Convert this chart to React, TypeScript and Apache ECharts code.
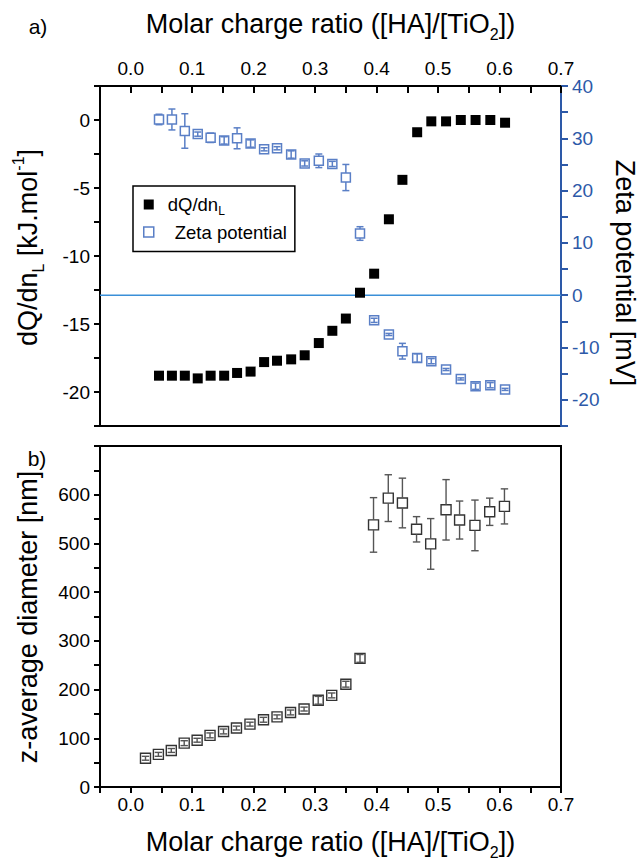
import React, { useEffect, useRef } from 'react';
import * as echarts from 'echarts';

// ---- data ----
const RATIO_TOP = [0.046, 0.067, 0.088, 0.109, 0.130, 0.152, 0.173, 0.195, 0.217, 0.238, 0.261, 0.283, 0.306, 0.328, 0.350, 0.373, 0.396, 0.420, 0.442, 0.466, 0.489, 0.513, 0.537, 0.561, 0.585, 0.609];
const DQ_DN = [-18.8, -18.8, -18.8, -19.0, -18.8, -18.8, -18.6, -18.5, -17.8, -17.7, -17.6, -17.3, -16.4, -15.5, -14.6, -12.7, -11.3, -7.3, -4.4, -0.9, -0.1, -0.1, 0.0, 0.0, 0.0, -0.2];
const ZETA = [33.6, 33.6, 31.4, 30.8, 30.1, 29.6, 30.0, 29.0, 27.9, 28.1, 26.9, 25.2, 25.7, 25.1, 22.5, 11.8, -4.8, -7.5, -10.7, -12.0, -12.6, -14.2, -16.0, -17.4, -17.2, -18.0];
const ZETA_ERR = [1.0, 2.0, 3.3, 0.4, 0.9, 0.7, 2.0, 0.7, 0.3, 0.3, 0.7, 0.5, 1.3, 0.5, 2.5, 1.3, 0.4, 0.2, 1.5, 0.8, 0.5, 0.2, 0.2, 0.6, 0.5, 0.2];
const RATIO_BOTTOM = [0.024, 0.045, 0.066, 0.087, 0.108, 0.129, 0.151, 0.172, 0.194, 0.216, 0.238, 0.260, 0.282, 0.305, 0.327, 0.350, 0.373, 0.395, 0.419, 0.442, 0.465, 0.488, 0.513, 0.535, 0.560, 0.584, 0.608];
const DIAMETER = [59, 67, 75, 90, 96, 106, 114, 121, 129, 138, 144, 153, 160, 178, 188, 211, 264, 538, 593, 583, 529, 499, 569, 548, 537, 565, 576];
const DIAMETER_ERR = [4, 4, 4, 5, 4, 5, 5, 4, 4, 5, 4, 5, 4, 8, 5, 6, 8, 56, 48, 51, 26, 52, 62, 39, 52, 28, 36];
const ZERO_LINE = [[-0.05, 0], [0.7, 0]];

// axis ranges
const X_RANGE = [-0.05, 0.7];
const DQ_RANGE = [-22.5, 2.5];
const ZETA_RANGE = [-25, 40];
const DIAM_RANGE = [0, 700];

const FONT = '"Liberation Sans", Arial, Helvetica, sans-serif';
const AXIS_BLUE = '#2d59a8';
const MARK_BLUE = '#5a7fc6';
const ZERO_BLUE = '#3a8fd8';

const fmtX = (v: number) => {
  const r = Math.round(v * 100);
  return r % 10 === 0 ? (Math.abs(r) < 1e-9 ? '0.0' : (r / 100).toFixed(1)) : '';
};
const fmtDQ = (v: number) => (Math.round(v * 10) % 50 === 0 ? String(Math.round(v) || 0) : '');
const fmtZeta = (v: number) => (Math.round(v) % 10 === 0 ? String(Math.round(v) || 0) : '');
const fmtDiam = (v: number) => (Math.round(v) % 100 === 0 && v < 700 ? String(Math.round(v)) : '');

function errRender(size: number, stroke: string, fill: string, barColor: string, lw: number, capHalf: number) {
  return (params: any, api: any) => {
    const x = api.value(0);
    const y = api.value(1);
    const e = api.value(2);
    const c = api.coord([x, y]);
    const top = api.coord([x, y + e])[1];
    const bot = api.coord([x, y - e])[1];
    const h = size / 2;
    const children: any[] = [];
    children.push({
      type: 'rect',
      shape: { x: c[0] - h, y: c[1] - h, width: size, height: size },
      style: { fill, stroke, lineWidth: lw },
    });
    const segs: number[][] = [];
    if (c[1] - top > h) {
      segs.push([c[0], top, c[0], c[1] - h]);
      segs.push([c[0], c[1] + h, c[0], bot]);
    } else {
      segs.push([c[0], top, c[0], bot]);
    }
    segs.push([c[0] - capHalf, top, c[0] + capHalf, top]);
    segs.push([c[0] - capHalf, bot, c[0] + capHalf, bot]);
    segs.forEach((s) =>
      children.push({
        type: 'line',
        shape: { x1: s[0], y1: s[1], x2: s[2], y2: s[3] },
        style: { stroke: barColor, lineWidth: lw },
      })
    );
    return { type: 'group', children };
  };
}

const titleRich = {
  t: { fontFamily: FONT, fontSize: 27, lineHeight: 36, color: '#000' },
  s: { fontFamily: FONT, fontSize: 16, lineHeight: 14, verticalAlign: 'bottom', color: '#000' },
  p: { fontFamily: FONT, fontSize: 16, lineHeight: 16, verticalAlign: 'top', color: '#000' },
  z: { fontFamily: FONT, fontSize: 27, lineHeight: 24, color: AXIS_BLUE },
};

export default function App() {
  const ref = useRef<HTMLDivElement>(null);
  useEffect(() => {
    if (!ref.current) return;
    const chart = echarts.init(ref.current, undefined, { renderer: 'svg' });
    const blackAxis = {
      axisLine: { show: true, onZero: false, lineStyle: { color: '#000', width: 2 } },
      splitLine: { show: false },
    };
    const option: any = {
      animation: false,
      backgroundColor: '#fff',
      textStyle: { fontFamily: FONT },
      grid: [
        { left: 100, top: 86, width: 461, height: 340, show: true, borderColor: '#000', borderWidth: 2, backgroundColor: 'transparent' },
        { left: 100, top: 446, width: 461, height: 341, show: true, borderColor: '#000', borderWidth: 2, backgroundColor: 'transparent' },
      ],
      xAxis: [
        {
          ...blackAxis,
          type: 'value', gridIndex: 0, position: 'top',
          min: X_RANGE[0], max: X_RANGE[1], interval: 0.05,
          axisTick: { show: true, inside: true, length: 7, lineStyle: { color: '#000', width: 2 } },
          axisLabel: { formatter: fmtX, fontSize: 19, color: '#000', margin: 8, fontFamily: FONT, showMaxLabel: true, showMinLabel: true },
        },
        {
          ...blackAxis,
          type: 'value', gridIndex: 1, position: 'bottom',
          min: X_RANGE[0], max: X_RANGE[1], interval: 0.05,
          axisTick: { show: true, inside: false, length: 6, lineStyle: { color: '#000', width: 2 } },
          axisLabel: { formatter: fmtX, fontSize: 19, color: '#000', margin: 8, fontFamily: FONT, showMaxLabel: true, showMinLabel: true },
        },
      ],
      yAxis: [
        {
          ...blackAxis,
          type: 'value', gridIndex: 0, position: 'left',
          min: DQ_RANGE[0], max: DQ_RANGE[1], interval: 2.5,
          axisTick: { show: true, inside: false, length: 6, lineStyle: { color: '#000', width: 2 } },
          axisLabel: { formatter: fmtDQ, fontSize: 19, color: '#000', margin: 10, fontFamily: FONT },
        },
        {
          type: 'value', gridIndex: 0, position: 'right',
          min: ZETA_RANGE[0], max: ZETA_RANGE[1], interval: 5,
          splitLine: { show: false },
          axisLine: { show: true, onZero: false, lineStyle: { color: AXIS_BLUE, width: 2 } },
          axisTick: { show: true, inside: false, length: 7, lineStyle: { color: AXIS_BLUE, width: 2 } },
          axisLabel: { formatter: fmtZeta, fontSize: 19, color: AXIS_BLUE, margin: 11, fontFamily: FONT, showMaxLabel: true },
        },
        {
          ...blackAxis,
          type: 'value', gridIndex: 1, position: 'left',
          min: DIAM_RANGE[0], max: DIAM_RANGE[1], interval: 50,
          axisTick: { show: true, inside: false, length: 6, lineStyle: { color: '#000', width: 2 } },
          axisLabel: { formatter: fmtDiam, fontSize: 19, color: '#000', margin: 10, fontFamily: FONT, showMinLabel: true },
        },
      ],
      legend: {
        left: 133, top: 186,
        orient: 'vertical',
        selectedMode: false,
        borderColor: '#000', borderWidth: 1.5, borderRadius: 0,
        padding: [9, 8, 10, 10],
        itemGap: 6,
        itemWidth: 10, itemHeight: 10,
        data: [
          { name: 'dQ/dnL', icon: 'rect', itemStyle: { color: '#000', opacity: 1 } },
          { name: 'Zeta potential', icon: 'rect', itemStyle: { color: '#fff', borderColor: MARK_BLUE, borderWidth: 1.5, opacity: 1 } },
        ],
        formatter: (n: string) => (n === 'dQ/dnL' ? '{a|dQ/dn}{s|L}' : '{b|Zeta potential}'),
        textStyle: {
          fontFamily: FONT, fontSize: 18.5, color: '#000',
          rich: {
            a: { fontFamily: FONT, fontSize: 18.5, lineHeight: 24, padding: [0, 0, 0, 9], color: '#000' },
            s: { fontFamily: FONT, fontSize: 12, lineHeight: 10, verticalAlign: 'bottom', color: '#000' },
            b: { fontFamily: FONT, fontSize: 18.5, lineHeight: 24, padding: [0, 0, 0, 16], color: '#000' },
          },
        },
      },
      series: [
        {
          type: 'line', name: 'zero', xAxisIndex: 0, yAxisIndex: 1,
          data: ZERO_LINE, symbol: 'none', silent: true, z: 1,
          lineStyle: { color: ZERO_BLUE, width: 1.5 },
        },
        {
          type: 'custom', name: 'Zeta potential', xAxisIndex: 0, yAxisIndex: 1, z: 3,
          data: RATIO_TOP.map((x, i) => [x, ZETA[i], ZETA_ERR[i]]),
          encode: { x: 0, y: 1 },
          renderItem: errRender(9, MARK_BLUE, '#fff', MARK_BLUE, 1.5, 3.5),
        },
        {
          type: 'scatter', name: 'dQ/dnL', xAxisIndex: 0, yAxisIndex: 0, z: 4,
          data: RATIO_TOP.map((x, i) => [x, DQ_DN[i]]),
          symbol: 'rect', symbolSize: 10,
          itemStyle: { color: '#000', opacity: 1 },
        },
        {
          type: 'custom', name: 'z-average diameter', xAxisIndex: 1, yAxisIndex: 2, z: 3,
          data: RATIO_BOTTOM.map((x, i) => [x, DIAMETER[i], DIAMETER_ERR[i]]),
          encode: { x: 0, y: 1 },
          renderItem: errRender(10, '#333', '#fff', '#555', 1.4, 3.7),
        },
      ],
      graphic: [
        { type: 'text', x: 38, y: 26.5, style: { text: 'a)', font: `21px ${FONT}`, fill: '#000', align: 'center', verticalAlign: 'middle' } },
        { type: 'text', x: 37, y: 458, style: { text: 'b)', font: `21px ${FONT}`, fill: '#000', align: 'center', verticalAlign: 'middle' } },
        { type: 'text', x: 330.5, y: 24, style: { text: '{t|Molar charge ratio ([HA]/[TiO}{s|2}{t|])}', rich: titleRich, align: 'center', verticalAlign: 'middle' } },
        { type: 'text', x: 330.5, y: 842, style: { text: '{t|Molar charge ratio ([HA]/[TiO}{s|2}{t|])}', rich: titleRich, align: 'center', verticalAlign: 'middle' } },
        { type: 'text', x: 28, y: 247.5, rotation: Math.PI / 2, style: { text: '{t|dQ/dn}{s|L}{t| [kJ.mol}{p|-1}{t|]}', rich: titleRich, align: 'center', verticalAlign: 'middle' } },
        { type: 'text', x: 28, y: 617, rotation: Math.PI / 2, style: { text: '{t|z-average diameter [nm]}', rich: titleRich, align: 'center', verticalAlign: 'middle' } },
        { type: 'text', x: 625, y: 273, rotation: -Math.PI / 2, style: { text: '{z|Zeta potential [mV]}', rich: titleRich, align: 'center', verticalAlign: 'middle' } },
      ],
    };
    chart.setOption(option);
    return () => chart.dispose();
  }, []);
  return <div ref={ref} style={{ position: 'fixed', left: 0, top: 0, width: 640, height: 860 }} />;
}
